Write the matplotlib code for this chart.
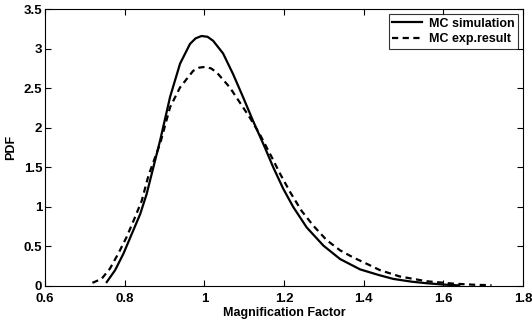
import numpy as np
import matplotlib
matplotlib.use("Agg")
import matplotlib.pyplot as plt

plt.rcParams['font.family'] = ['Liberation Sans', 'DejaVu Sans']
plt.rcParams['font.weight'] = 'bold'

# values
sim_x = [0.755, 0.776, 0.797, 0.818, 0.839, 0.855, 0.872, 0.889, 0.914, 0.939,
         0.964, 0.978, 0.993, 1.008, 1.022, 1.047, 1.072, 1.097, 1.122, 1.152,
         1.173, 1.198, 1.223, 1.257, 1.299, 1.341, 1.391, 1.437, 1.474, 1.520,
         1.558, 1.600, 1.640]
sim_y = [0.05, 0.20, 0.41, 0.66, 0.91, 1.16, 1.50, 1.84, 2.39, 2.81,
         3.06, 3.13, 3.16, 3.15, 3.10, 2.94, 2.68, 2.39, 2.09, 1.75,
         1.50, 1.23, 1.00, 0.74, 0.51, 0.34, 0.21, 0.14, 0.09, 0.055,
         0.035, 0.018, 0.008]

exp_x = [0.719, 0.742, 0.763, 0.784, 0.805, 0.826, 0.843, 0.860, 0.889, 0.914,
         0.939, 0.972, 0.987, 1.002, 1.017, 1.031, 1.064, 1.089, 1.114, 1.139,
         1.169, 1.190, 1.215, 1.244, 1.274, 1.307, 1.341, 1.374, 1.408, 1.441,
         1.491, 1.558, 1.625, 1.680, 1.721]
exp_y = [0.04, 0.09, 0.22, 0.41, 0.62, 0.87, 1.08, 1.40, 1.80, 2.26,
         2.51, 2.72, 2.76, 2.77, 2.75, 2.70, 2.51, 2.32, 2.13, 1.92,
         1.63, 1.42, 1.19, 0.95, 0.76, 0.58, 0.45, 0.36, 0.28, 0.20,
         0.12, 0.06, 0.03, 0.015, 0.01]

x_ticks = [0.6, 0.8, 1.0, 1.2, 1.4, 1.6, 1.8]
x_labels = ["0.6", "0.8", "1", "1.2", "1.4", "1.6", "1.8"]
y_ticks = [0, 0.5, 1, 1.5, 2, 2.5, 3, 3.5]
y_labels = ["0", "0.5", "1", "1.5", "2", "2.5", "3", "3.5"]

fig = plt.figure(figsize=(5.32, 3.25), dpi=100)
ax = fig.add_axes([0.0846, 0.12, 0.8985, 0.852])

ax.plot(sim_x, sim_y, color="black", linewidth=1.6, label="MC simulation")
ax.plot(exp_x, exp_y, color="black", linewidth=1.6, linestyle=(0, (2.8, 2.0)),
        label="MC exp.result")

ax.set_xlim(0.6, 1.8)
ax.set_ylim(0, 3.5)
ax.set_xticks(x_ticks)
ax.set_xticklabels(x_labels)
ax.set_yticks(y_ticks)
ax.set_yticklabels(y_labels)
ax.tick_params(direction="in", top=True, right=True, length=4, width=0.8,
               labelsize=9.5)
ax.tick_params(axis="x", pad=5)
ax.tick_params(axis="y", pad=2)
for lab in ax.get_xticklabels() + ax.get_yticklabels():
    lab.set_fontweight("bold")
for sp in ax.spines.values():
    sp.set_linewidth(0.8)

ax.set_xlabel("Magnification Factor", fontsize=9, fontweight="bold", labelpad=1.5)
ax.set_ylabel("PDF", fontsize=9, fontweight="bold", labelpad=5)

leg = ax.legend(loc="upper right", fontsize=9, frameon=True, fancybox=False,
                borderaxespad=0.4, handlelength=2.4, handletextpad=0.5,
                borderpad=0.3, labelspacing=0.25)
leg.get_frame().set_edgecolor("black")
leg.get_frame().set_linewidth(0.8)
for t in leg.get_texts():
    t.set_fontweight("bold")

fig.savefig("out.png", dpi=100)
